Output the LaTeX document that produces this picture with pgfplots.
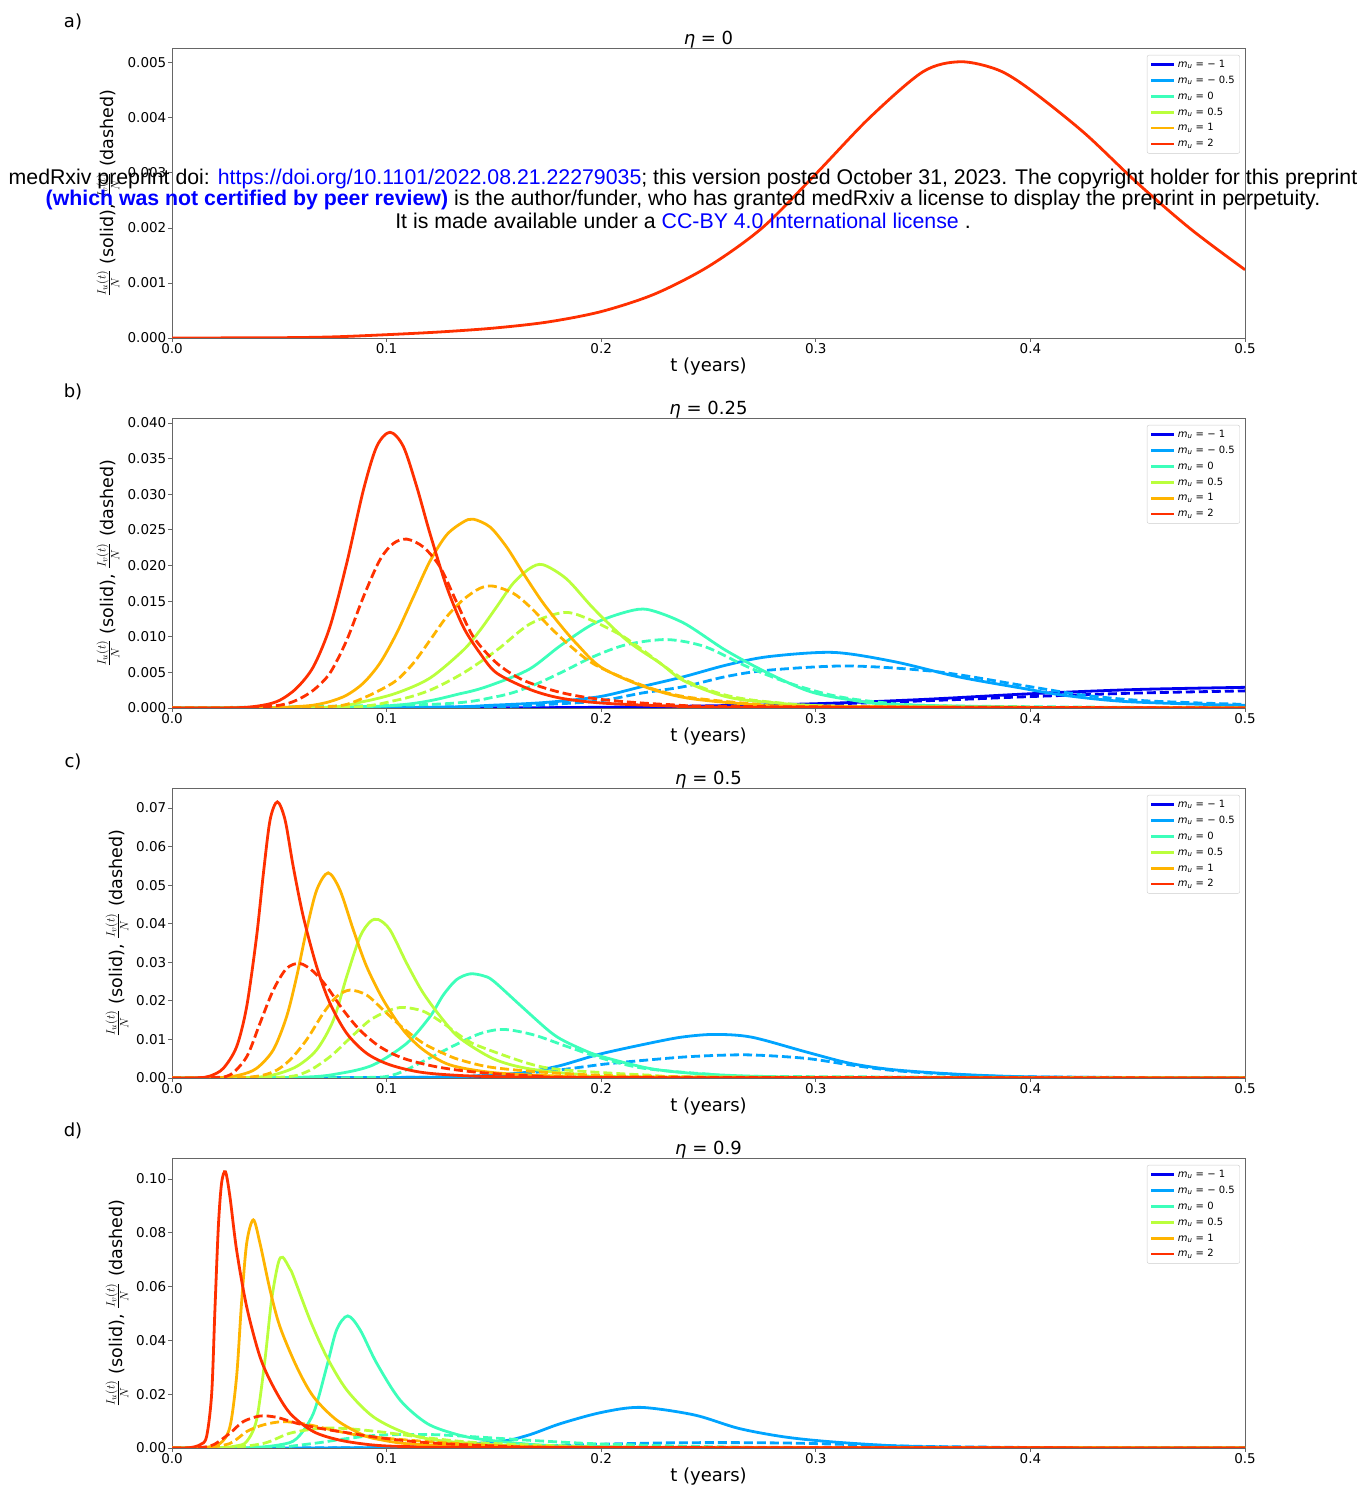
\documentclass[border=0pt]{standalone}
\usepackage{pgfplots}
\pgfplotsset{compat=1.18}
\usepackage{fontspec}
\setmainfont{DejaVu Sans}
\newfontfamily\arialf{Liberation Sans}

\definecolor{cA}{RGB}{0,0,240}
\definecolor{cB}{RGB}{0,164,255}
\definecolor{cC}{RGB}{60,255,186}
\definecolor{cD}{RGB}{186,255,60}
\definecolor{cE}{RGB}{255,180,0}
\definecolor{cF}{RGB}{255,48,0}
\definecolor{linkblue}{RGB}{0,0,255}

\pgfplotsset{
  panel/.style={
    scale only axis, width=1073pt, height=290pt, anchor=south west,
    xmin=0, xmax=0.5, ymin=0,
    xtick={0,0.1,0.2,0.3,0.4,0.5},
    xticklabels={0.0,0.1,0.2,0.3,0.4,0.5},
    scaled x ticks=false, scaled y ticks=false,
    tick align=outside, major tick length=4pt,
    xtick pos=bottom, ytick pos=left,
    tick style={black!60, line width=0.8pt},
    axis line style={black!60, line width=0.8pt},
    ticklabel style={font=\fontsize{13.5}{15}\selectfont, inner sep=1.5pt},
    xlabel={t (years)},
    xlabel style={at={(axis description cs:0.5,0)}, anchor=center, yshift=-29pt,
      font=\fontsize{18}{20}\selectfont},
    ylabel={$\frac{I_u(t)}{N}$ (solid), $\frac{I_v(t)}{N}$ (dashed)},
    ylabel style={anchor=center, font=\fontsize{17.5}{20}\selectfont},
    title style={at={(axis description cs:0.5,1)}, anchor=base, yshift=-3pt,
      font=\fontsize{18}{20}\selectfont},
    legend cell align=left,
    legend image code/.code={\draw[#1, line width=2.8pt] (0pt,0pt) -- (23pt,0pt);},
    legend style={at={(0.9953,0.976)}, anchor=north east,
      font=\fontsize{10}{12}\selectfont, draw=black!20, fill=white,
      rounded corners=2pt, inner xsep=3pt, inner ysep=3pt, row sep=3pt},
  },
  sol/.style={line width=2.8pt, smooth, forget plot},
  das/.style={line width=2.8pt, smooth, forget plot, dash pattern=on 9pt off 4pt},
}

\newcommand{\mulegend}{%
  \addlegendimage{cA}\addlegendentry{\textit{m}\textsubscript{\textit{u}} = − 1}
  \addlegendimage{cB}\addlegendentry{\textit{m}\textsubscript{\textit{u}} = − 0.5}
  \addlegendimage{cC}\addlegendentry{\textit{m}\textsubscript{\textit{u}} = 0}
  \addlegendimage{cD}\addlegendentry{\textit{m}\textsubscript{\textit{u}} = 0.5}
  \addlegendimage{cE}\addlegendentry{\textit{m}\textsubscript{\textit{u}} = 1}
  \addlegendimage{cF}\addlegendentry{\textit{m}\textsubscript{\textit{u}} = 2}
}

\begin{document}
\begin{tikzpicture}[x=1pt,y=1pt]
\useasboundingbox (0pt,0pt) rectangle (1363pt,1489pt);

% ---------------- a) eta = 0
\begin{axis}[panel, at={(172pt,1151pt)}, ymax=0.00527,
  ytick={0,0.001,0.002,0.003,0.004,0.005},
  yticklabels={0.000,0.001,0.002,0.003,0.004,0.005},
  ylabel style={at={(axis description cs:-0.0597,0.5)}},
  title={\textit{η} = 0}]
\mulegend
\addplot[sol, cF] coordinates {
(0,0) (0.05,0.000005) (0.075,0.00002) (0.1,0.00006) (0.125,0.00011) (0.15,0.00018)
(0.175,0.00029) (0.2,0.00048) (0.225,0.0008) (0.25,0.0013) (0.275,0.002)
(0.3,0.00298) (0.325,0.004) (0.35,0.00484) (0.3675,0.00502) (0.385,0.00487)
(0.4,0.00451) (0.425,0.00373) (0.45,0.00281) (0.475,0.00197) (0.5,0.00124)};
\end{axis}

% ---------------- b) eta = 0.25
\begin{axis}[panel, at={(172pt,781pt)}, ymax=0.0407,
  ytick={0,0.005,0.01,0.015,0.02,0.025,0.03,0.035,0.04},
  yticklabels={0.000,0.005,0.010,0.015,0.020,0.025,0.030,0.035,0.040},
  ylabel style={at={(axis description cs:-0.0597,0.5)}},
  title={\textit{η} = 0.25}]
\mulegend
\addplot[sol, cA] coordinates {(0,0) (0.15,0.00002) (0.2,0.0001) (0.25,0.0003) (0.3,0.0006) (0.35,0.0012) (0.4,0.002) (0.45,0.0026) (0.5,0.0029)};
\addplot[das, cA] coordinates {(0,0) (0.2,0.00005) (0.25,0.0002) (0.3,0.0005) (0.35,0.001) (0.4,0.0016) (0.45,0.0021) (0.5,0.0024)};
\addplot[sol, cB] coordinates {(0,0) (0.12,0.0001) (0.15,0.0004) (0.175,0.0008) (0.1994,0.0016) (0.219,0.003) (0.2386,0.0044) (0.258,0.006) (0.2777,0.0072) (0.3082,0.0078) (0.3366,0.0065) (0.366,0.0044) (0.3956,0.0028) (0.4152,0.0018) (0.4446,0.0009) (0.4935,0.0004) (0.5,0.0004)};
\addplot[das, cB] coordinates {(0,0) (0.15,0.0002) (0.175,0.0005) (0.1994,0.001) (0.219,0.0021) (0.2386,0.003) (0.258,0.0044) (0.2777,0.0053) (0.315,0.0059) (0.3562,0.0051) (0.3956,0.0032) (0.425,0.0018) (0.4544,0.001) (0.5,0.0005)};
\addplot[sol, cC] coordinates {(0,0) (0.1,0.0003) (0.1357,0.0021) (0.1513,0.0035) (0.1668,0.0055) (0.1808,0.0087) (0.1963,0.0118) (0.2119,0.0135) (0.222,0.0138) (0.2386,0.0119) (0.258,0.0081) (0.2777,0.0049) (0.2973,0.0023) (0.317,0.0011) (0.336,0.0005) (0.4,0.0001) (0.5,0)};
\addplot[das, cC] coordinates {(0,0) (0.12,0.0005) (0.1513,0.0016) (0.1668,0.003) (0.1808,0.0049) (0.1963,0.0072) (0.2119,0.0089) (0.2307,0.0096) (0.2484,0.0086) (0.268,0.0058) (0.2875,0.0035) (0.3073,0.0018) (0.327,0.0009) (0.36,0.0003) (0.5,0)};
\addplot[sol, cD] coordinates {(0,0) (0.07,0.00005) (0.0892,0.0009) (0.1047,0.0021) (0.1202,0.0042) (0.1357,0.0081) (0.1435,0.0109) (0.1513,0.0142) (0.159,0.0175) (0.1668,0.0196) (0.173,0.0201) (0.1839,0.0181) (0.1963,0.014) (0.2119,0.0095) (0.2274,0.0063) (0.2386,0.0038) (0.258,0.0016) (0.278,0.0008) (0.32,0.0002) (0.5,0)};
\addplot[das, cD] coordinates {(0,0) (0.08,0.00005) (0.1047,0.0011) (0.1202,0.0025) (0.1357,0.0049) (0.1513,0.0081) (0.1668,0.0118) (0.1824,0.0134) (0.1932,0.0126) (0.2088,0.0103) (0.219,0.0082) (0.2386,0.004) (0.258,0.0018) (0.28,0.0008) (0.32,0.0002) (0.5,0)};
\addplot[sol, cE] coordinates {(0,0) (0.045,0.00003) (0.0581,0.0002) (0.0659,0.0004) (0.0736,0.0009) (0.0814,0.0018) (0.0892,0.0035) (0.0969,0.0063) (0.1047,0.0105) (0.1125,0.0156) (0.1202,0.0206) (0.128,0.0243) (0.1357,0.0261) (0.1404,0.0265) (0.1482,0.0254) (0.1559,0.0226) (0.1637,0.0189) (0.1723,0.015) (0.1808,0.0117) (0.1886,0.009) (0.2,0.0057) (0.22,0.003) (0.24,0.0014) (0.27,0.0005) (0.3,0.0002) (0.5,0)};
\addplot[das, cE] coordinates {(0,0) (0.06,0.00003) (0.0736,0.0002) (0.0814,0.0005) (0.0892,0.0014) (0.0969,0.0025) (0.1047,0.0039) (0.1125,0.0063) (0.1202,0.0095) (0.128,0.0128) (0.1357,0.0152) (0.1435,0.0168) (0.1497,0.0171) (0.159,0.0161) (0.1668,0.0142) (0.1808,0.01) (0.1964,0.0062) (0.219,0.0032) (0.2386,0.0016) (0.27,0.0006) (0.3,0.0002) (0.5,0)};
\addplot[sol, cF] coordinates {(0,0) (0.03,0.00003) (0.0426,0.0004) (0.0503,0.0011) (0.0581,0.0028) (0.0659,0.0058) (0.0736,0.0114) (0.0814,0.0203) (0.0892,0.0306) (0.0954,0.0367) (0.1016,0.0387) (0.1078,0.0367) (0.114,0.0311) (0.1202,0.0245) (0.128,0.017) (0.1357,0.0114) (0.1435,0.0077) (0.1513,0.0049) (0.1668,0.0026) (0.1808,0.0014) (0.2,0.0007) (0.23,0.0003) (0.27,0.0001) (0.5,0)};
\addplot[das, cF] coordinates {(0,0) (0.035,0.00003) (0.0503,0.0004) (0.0581,0.0011) (0.0659,0.0025) (0.0736,0.0049) (0.0814,0.0095) (0.0892,0.0156) (0.0969,0.0208) (0.1032,0.0231) (0.1094,0.0237) (0.1171,0.0226) (0.1249,0.0198) (0.1327,0.0148) (0.1404,0.01) (0.1513,0.0063) (0.1637,0.0039) (0.1808,0.0022) (0.2,0.0012) (0.23,0.0005) (0.27,0.0002) (0.5,0)};
\end{axis}

% ---------------- c) eta = 0.5
\begin{axis}[panel, at={(172pt,411pt)}, ymax=0.0752,
  ytick={0,0.01,0.02,0.03,0.04,0.05,0.06,0.07},
  yticklabels={0.00,0.01,0.02,0.03,0.04,0.05,0.06,0.07},
  ylabel style={at={(axis description cs:-0.0513,0.5)}},
  title={\textit{η} = 0.5}]
\mulegend
\addplot[sol, cA] coordinates {(0,0) (0.5,0)};
\addplot[das, cA] coordinates {(0,0) (0.5,0)};
\addplot[sol, cB] coordinates {(0,0) (0.12,0.0002) (0.15,0.0008) (0.1653,0.0015) (0.1808,0.0032) (0.1994,0.0062) (0.2223,0.009) (0.2375,0.0106) (0.2526,0.0113) (0.27,0.0106) (0.2952,0.0068) (0.316,0.0038) (0.337,0.0021) (0.3687,0.0009) (0.4,0.0003) (0.45,0.0001) (0.5,0)};
\addplot[das, cB] coordinates {(0,0) (0.12,0.0002) (0.15,0.0008) (0.1653,0.0013) (0.1808,0.0021) (0.2016,0.0036) (0.2223,0.0047) (0.2431,0.0056) (0.2682,0.006) (0.2952,0.0051) (0.316,0.0034) (0.337,0.0019) (0.3687,0.0008) (0.4,0.0003) (0.5,0)};
\addplot[sol, cC] coordinates {(0,0) (0.06,0.0002) (0.0783,0.0012) (0.0938,0.0034) (0.1094,0.009) (0.1202,0.0159) (0.1264,0.0215) (0.1326,0.0255) (0.1389,0.027) (0.1451,0.0265) (0.1497,0.0252) (0.162,0.019) (0.1746,0.0127) (0.1808,0.0102) (0.19,0.0077) (0.1994,0.0057) (0.2223,0.0025) (0.243,0.0012) (0.274,0.0004) (0.32,0.0001) (0.5,0)};
\addplot[das, cC] coordinates {(0,0) (0.085,0.0001) (0.1031,0.0008) (0.1187,0.0048) (0.131,0.0083) (0.1435,0.0115) (0.1544,0.0126) (0.1684,0.0112) (0.1839,0.0082) (0.201,0.005) (0.22,0.0025) (0.25,0.001) (0.28,0.0004) (0.5,0)};
\addplot[sol, cD] coordinates {(0,0) (0.035,0.0001) (0.0472,0.0008) (0.0581,0.003) (0.0674,0.0073) (0.0752,0.015) (0.0814,0.0263) (0.0876,0.0366) (0.0923,0.0405) (0.0961,0.0411) (0.1016,0.0384) (0.1094,0.0297) (0.1171,0.022) (0.1264,0.015) (0.1342,0.0103) (0.1497,0.005) (0.1653,0.0025) (0.1887,0.001) (0.22,0.0003) (0.5,0)};
\addplot[das, cD] coordinates {(0,0) (0.05,0.0002) (0.0627,0.0016) (0.0736,0.0055) (0.0829,0.0103) (0.0923,0.015) (0.1016,0.0176) (0.1078,0.0183) (0.1171,0.0173) (0.1264,0.0142) (0.1342,0.011) (0.142,0.0085) (0.1653,0.0039) (0.1808,0.0022) (0.22,0.0008) (0.26,0.0002) (0.5,0)};
\addplot[sol, cE] coordinates {(0,0) (0.022,0.0001) (0.0317,0.0008) (0.0394,0.0025) (0.0472,0.0073) (0.0534,0.0159) (0.0581,0.0263) (0.0627,0.0384) (0.0674,0.0487) (0.0728,0.0532) (0.0783,0.0487) (0.0845,0.0384) (0.0907,0.0289) (0.0985,0.0202) (0.1078,0.0124) (0.1171,0.0073) (0.1295,0.0034) (0.1497,0.0014) (0.18,0.0005) (0.22,0.0001) (0.5,0)};
\addplot[das, cE] coordinates {(0,0) (0.035,0.0002) (0.0472,0.0016) (0.055,0.0047) (0.0627,0.0099) (0.0705,0.0168) (0.0767,0.0211) (0.0829,0.0228) (0.0907,0.0215) (0.0985,0.0176) (0.1078,0.0129) (0.1171,0.009) (0.1264,0.0064) (0.1342,0.0047) (0.1497,0.0027) (0.1808,0.0012) (0.22,0.0004) (0.3,0.0001) (0.5,0)};
\addplot[sol, cF] coordinates {(0,0) (0.012,0.00005) (0.0177,0.0005) (0.0239,0.0025) (0.0301,0.0081) (0.0348,0.0185) (0.0394,0.0366) (0.0426,0.0531) (0.0457,0.0669) (0.0491,0.0716) (0.0527,0.0669) (0.0565,0.0548) (0.0612,0.0418) (0.0674,0.0289) (0.0736,0.0194) (0.0814,0.0116) (0.0907,0.0064) (0.1016,0.0034) (0.1171,0.0014) (0.14,0.0005) (0.17,0.0002) (0.2,0.0001) (0.5,0)};
\addplot[das, cF] coordinates {(0,0) (0.018,0.0001) (0.027,0.0008) (0.0348,0.0055) (0.041,0.0142) (0.0472,0.0228) (0.0534,0.0284) (0.0596,0.0297) (0.0659,0.0276) (0.0721,0.0237) (0.0798,0.0176) (0.0876,0.0124) (0.0969,0.0081) (0.1078,0.0051) (0.1233,0.0029) (0.142,0.0015) (0.17,0.0005) (0.2,0.0002) (0.5,0)};
\end{axis}

% ---------------- d) eta = 0.9
\begin{axis}[panel, at={(172pt,41pt)}, ymax=0.1078,
  ytick={0,0.02,0.04,0.06,0.08,0.1},
  yticklabels={0.00,0.02,0.04,0.06,0.08,0.10},
  ylabel style={at={(axis description cs:-0.0513,0.5)}},
  title={\textit{η} = 0.9}]
\mulegend
\addplot[sol, cA] coordinates {(0,0) (0.5,0)};
\addplot[das, cA] coordinates {(0,0) (0.5,0)};
\addplot[sol, cB] coordinates {(0,0) (0.1,0.0002) (0.1497,0.0022) (0.1653,0.0046) (0.1808,0.009) (0.2,0.0132) (0.2183,0.0151) (0.2433,0.0123) (0.264,0.0073) (0.2847,0.0042) (0.3057,0.0024) (0.337,0.0008) (0.368,0.0003) (0.42,0.0001) (0.5,0)};
\addplot[das, cB] coordinates {(0,0) (0.12,0.0001) (0.15,0.0003) (0.18,0.0009) (0.2,0.0014) (0.23,0.0019) (0.26,0.002) (0.29,0.0018) (0.32,0.0012) (0.35,0.0006) (0.4,0.0002) (0.5,0)};
\addplot[sol, cC] coordinates {(0,0) (0.035,0.0001) (0.0503,0.0012) (0.0581,0.0035) (0.0659,0.0129) (0.0721,0.0302) (0.0767,0.0439) (0.0819,0.0491) (0.0876,0.044) (0.0954,0.0315) (0.1063,0.0178) (0.1187,0.0092) (0.1311,0.0054) (0.1435,0.0033) (0.17,0.0012) (0.2,0.0005) (0.25,0.0001) (0.5,0)};
\addplot[das, cC] coordinates {(0,0) (0.045,0.0001) (0.0659,0.0017) (0.0814,0.0035) (0.097,0.0048) (0.12,0.005) (0.14,0.0042) (0.17,0.0027) (0.2,0.0015) (0.25,0.0005) (0.3,0.0002) (0.5,0)};
\addplot[sol, cD] coordinates {(0,0) (0.022,0.0001) (0.0301,0.0008) (0.0348,0.0024) (0.0394,0.0104) (0.0433,0.0327) (0.0464,0.055) (0.0495,0.0687) (0.0516,0.0709) (0.055,0.0665) (0.0565,0.064) (0.0643,0.0476) (0.0721,0.0339) (0.0814,0.0216) (0.0938,0.0116) (0.1094,0.0054) (0.1264,0.0026) (0.16,0.0008) (0.2,0.0002) (0.5,0)};
\addplot[das, cD] coordinates {(0,0) (0.025,0.0001) (0.0426,0.0017) (0.055,0.0055) (0.069,0.0073) (0.0814,0.0072) (0.097,0.006) (0.1187,0.0038) (0.142,0.002) (0.18,0.0008) (0.22,0.0003) (0.5,0)};
\addplot[sol, cE] coordinates {(0,0) (0.014,0.0001) (0.0224,0.0017) (0.027,0.0079) (0.0301,0.0265) (0.0324,0.0538) (0.0348,0.0761) (0.0379,0.0848) (0.041,0.0761) (0.0457,0.0587) (0.0503,0.0451) (0.0581,0.0302) (0.0659,0.0191) (0.0767,0.0104) (0.0891,0.0048) (0.097,0.0031) (0.1109,0.0015) (0.14,0.0006) (0.18,0.0002) (0.5,0)};
\addplot[das, cE] coordinates {(0,0) (0.015,0.0001) (0.027,0.0017) (0.0348,0.0061) (0.0426,0.0086) (0.0519,0.0098) (0.0628,0.0088) (0.0736,0.0069) (0.0891,0.0045) (0.1187,0.0024) (0.15,0.001) (0.2,0.0003) (0.5,0)};
\addplot[sol, cF] coordinates {(0,0) (0.008,0.0001) (0.013,0.0012) (0.0161,0.0042) (0.0185,0.0203) (0.02,0.0513) (0.0216,0.0823) (0.0231,0.0984) (0.0249,0.1027) (0.027,0.0934) (0.0301,0.0736) (0.0348,0.0525) (0.041,0.0339) (0.0472,0.0228) (0.055,0.0129) (0.0659,0.0061) (0.0783,0.0029) (0.0938,0.0011) (0.1109,0.0005) (0.15,0.0002) (0.5,0)};
\addplot[das, cF] coordinates {(0,0) (0.012,0.0001) (0.0193,0.0012) (0.027,0.0055) (0.0332,0.0098) (0.041,0.0119) (0.0488,0.0114) (0.0581,0.0092) (0.069,0.0073) (0.0814,0.0057) (0.097,0.0038) (0.1187,0.002) (0.15,0.0008) (0.2,0.0002) (0.5,0)};
\end{axis}

% panel letters
\node[font=\fontsize{18}{20}\selectfont] at (73pt,1467pt) {a)};
\node[font=\fontsize{18}{20}\selectfont] at (73pt,1097pt) {b)};
\node[font=\fontsize{18}{20}\selectfont] at (73pt,727pt) {c)};
\node[font=\fontsize{18}{20}\selectfont] at (73pt,358pt) {d)};

% medRxiv overlay
\node[font=\arialf\fontsize{21.3}{24}\selectfont, inner sep=0pt] at (683pt,1310pt)
  {medRxiv preprint doi: \textcolor{linkblue}{https://doi.org/10.1101/2022.08.21.22279035}; this version posted October 31, 2023. The copyright holder for this preprint};
\node[font=\arialf\fontsize{21.3}{24}\selectfont, inner sep=0pt] at (683pt,1289pt)
  {\textcolor{linkblue}{\bfseries (which was not certified by peer review)} is the author/funder, who has granted medRxiv a license to display the preprint in perpetuity.};
\node[font=\arialf\fontsize{21.3}{24}\selectfont, inner sep=0pt] at (683pt,1268pt)
  {It is made available under a \textcolor{linkblue}{CC-BY 4.0 International license} .};
\end{tikzpicture}
\end{document}
